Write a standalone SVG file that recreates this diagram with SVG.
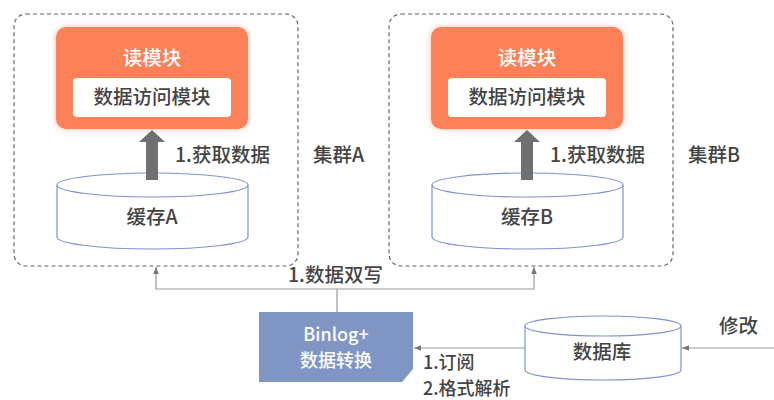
<svg xmlns="http://www.w3.org/2000/svg" width="774" height="400" viewBox="0 0 774 400">
<defs>
<filter id="glow" x="-10%" y="-15%" width="120%" height="130%">
<feDropShadow dx="0" dy="0" stdDeviation="3" flood-color="#fc8159" flood-opacity="0.5"/>
</filter>
<marker id="ah" viewBox="0 0 10 10" refX="10" refY="5" markerWidth="7" markerHeight="7" orient="auto" markerUnits="userSpaceOnUse">
<path d="M0,1 L10,5 L0,9 Z" fill="#777"/>
</marker>
</defs>
<style>
text{font-family:"Noto Sans CJK SC","Noto Sans",sans-serif;font-size:19.5px;font-weight:500;fill:#444}
.c{text-anchor:middle}
.w{fill:#fff}
.s{font-size:18px}
.cluster{fill:#fff;stroke:#666;stroke-width:1.2;stroke-dasharray:4 3}
.mod{fill:#fc8159;filter:url(#glow)}
.inner{fill:#fff}
.cyl{fill:#fff;stroke:#7f93cc;stroke-width:1.2}
.big{fill:#707070}
.line{fill:none;stroke:#999;stroke-width:1.2}
</style>
<rect width="774" height="400" fill="#fff"/>

<g id="clusterA">
<rect class="cluster" x="14" y="14" width="284" height="252" rx="12"/>
<text x="313" y="162">集群A</text>
</g>
<g id="clusterB">
<rect class="cluster" x="389" y="14" width="284" height="252" rx="12"/>
<text x="688" y="162">集群B</text>
</g>

<g id="readA">
<rect class="mod" x="56" y="27" width="192" height="102" rx="10"/>
<text class="c w" x="152" y="65">读模块</text>
<rect class="inner" x="73" y="78" width="158" height="39" rx="4"/>
<text class="c" x="152" y="104">数据访问模块</text>
</g>
<g id="readB">
<rect class="mod" x="431" y="27" width="192" height="102" rx="10"/>
<text class="c w" x="527" y="65">读模块</text>
<rect class="inner" x="448" y="78" width="158" height="39" rx="4"/>
<text class="c" x="527" y="104">数据访问模块</text>
</g>

<g id="cacheA">
<path class="cyl" d="M57,185 L57,237 A95.5,12 0 0 0 248,237 L248,185"/>
<ellipse class="cyl" cx="152.5" cy="185" rx="95.5" ry="12"/>
<text class="c" x="152" y="224">缓存A</text>
</g>
<g id="cacheB">
<path class="cyl" d="M432,185 L432,237 A95.5,12 0 0 0 623,237 L623,185"/>
<ellipse class="cyl" cx="527.5" cy="185" rx="95.5" ry="12"/>
<text class="c" x="527" y="224">缓存B</text>
</g>

<g id="binlog">
<path d="M259,312 L413,312 L413,369 L402,382 L259,382 Z" fill="#7f96c4"/>
<text class="c w s" x="336" y="341">Binlog+</text>
<text class="c w s" x="336" y="367">数据转换</text>
</g>

<g id="db">
<path class="cyl" d="M525,326 L525,370 A78,10 0 0 0 681,370 L681,326"/>
<ellipse class="cyl" cx="603" cy="326" rx="78" ry="10"/>
<text class="c" x="602" y="359">数据库</text>
</g>

<g id="connectors">
<path class="big" d="M146,180 L146,142 L139,142 L152,130 L165,142 L158,142 L158,180 Z"/>
<path class="big" d="M521,180 L521,142 L514,142 L527,130 L540,142 L533,142 L533,180 Z"/>
<text x="175" y="162">1.获取数据</text>
<text x="550" y="162">1.获取数据</text>
<path class="line" d="M337,312 L337,289"/>
<path class="line" d="M337,289 L156,289 L156,267" marker-end="url(#ah)"/>
<path class="line" d="M337,289 L534,289 L534,267" marker-end="url(#ah)"/>
<text x="288" y="282">1.数据双写</text>
<path class="line" d="M525,348 L414,348" marker-end="url(#ah)"/>
<text class="s" x="423" y="369">1.订阅</text>
<text class="s" x="423" y="395">2.格式解析</text>
<path class="line" d="M774,348 L682,348" marker-end="url(#ah)"/>
<text x="719" y="333">修改</text>
</g>
</svg>
